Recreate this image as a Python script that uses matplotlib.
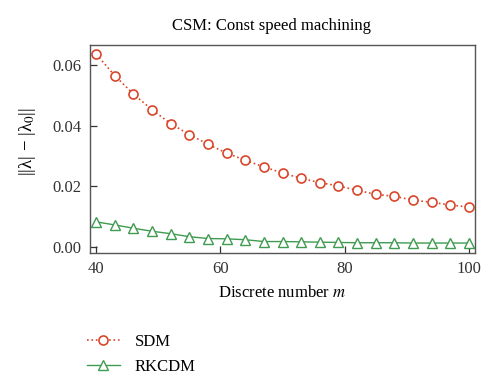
import matplotlib
matplotlib.use("Agg")
import matplotlib.pyplot as plt
import numpy as np

# Data
m = np.arange(40, 101, 3)
sdm = [0.0637, 0.0566, 0.0505, 0.0453, 0.0407, 0.0371, 0.0339, 0.0310, 0.0286,
       0.0264, 0.0244, 0.0226, 0.0212, 0.0201, 0.0187, 0.0173, 0.0167, 0.0154,
       0.0147, 0.0138, 0.0131]
rkcdm = [0.0082, 0.0072, 0.0061, 0.0051, 0.0043, 0.0033, 0.0027, 0.0026, 0.0023,
         0.0017, 0.0017, 0.0016, 0.0015, 0.0014, 0.0013, 0.0013, 0.0013, 0.0012,
         0.0012, 0.0012, 0.0012]
xticks = [40, 60, 80, 100]
yticks = [0.00, 0.02, 0.04, 0.06]

plt.rcParams['font.family'] = ['Liberation Serif', 'DejaVu Serif']
plt.rcParams['mathtext.fontset'] = 'stix'
fs = 12

fig = plt.figure(figsize=(5, 3.9), dpi=100)
ax = fig.add_axes([0.18, 0.352, 0.77, 0.533])

red = '#D9472B'
green = '#3E9B4F'
ax.plot(m, sdm, linestyle=':', color=red, marker='o', markersize=6.5,
        markerfacecolor='white', markeredgecolor=red, markeredgewidth=1.2,
        linewidth=1.2, label='SDM')
ax.plot(m, rkcdm, linestyle='-', color=green, marker='^', markersize=6.5,
        markerfacecolor='white', markeredgecolor=green, markeredgewidth=1.0,
        linewidth=1.0, label='RKCDM')

ax.set_xlim(39, 101)
ax.set_ylim(-0.002, 0.0668)
ax.set_xticks(xticks)
ax.set_yticks(yticks)
ax.set_yticklabels([f"{v:.2f}" for v in yticks])
ax.tick_params(direction='in', length=5, width=0.9, labelsize=fs, pad=6,
               top=False, right=False, colors='#333333')
for s in ax.spines.values():
    s.set_color('#555555')
    s.set_linewidth(1.0)

# title sits a little left of the axes centre in the reference
fig.text(272 / 500, 1 - 26 / 390, 'CSM: Const speed machining', fontsize=fs,
         ha='center', va='center')
ax.set_xlabel('Discrete number $m$', fontsize=fs, labelpad=6)
fig.text(27 / 500, 1 - 141.5 / 390, '||λ| − |λ$_0$||', fontsize=13.5,
         rotation=90, ha='center', va='center')

fig.legend(loc='upper left', bbox_to_anchor=(0.16, 0.16), frameon=False,
           fontsize=fs, handlelength=2.0, handletextpad=0.9, labelspacing=0.5,
           borderaxespad=0)

fig.savefig('out.png', dpi=100)
